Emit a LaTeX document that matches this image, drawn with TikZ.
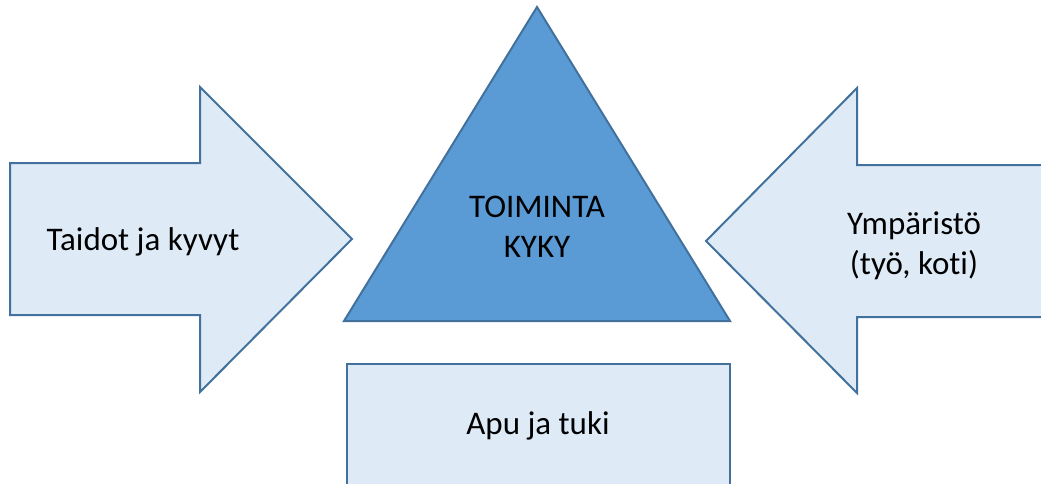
\documentclass[tikz,border=0pt]{standalone}
\usepackage{fontspec}
\setmainfont[RawFeature=-liga]{Carlito}
\definecolor{lightfill}{HTML}{DEEBF7}
\definecolor{edgeblue}{HTML}{41719C}
\definecolor{midblue}{HTML}{5B9BD5}
\begin{document}
\begin{tikzpicture}[x=1pt,y=-1pt,
  shapeline/.style={draw=edgeblue,line width=2pt,line join=miter},
  lbl/.style={font=\fontsize{33}{40}\selectfont,text=black,align=center,inner sep=0pt}]
\useasboundingbox (0,0) rectangle (1041,483);
\clip (0,0) rectangle (1041,483);
% left arrow
\draw[shapeline,fill=lightfill] (10,163) -- (200,163) -- (200,87) -- (352,239) -- (200,392) -- (200,315) -- (10,315) -- cycle;
% right arrow
\draw[shapeline,fill=lightfill] (1045,165) -- (857,165) -- (857,88) -- (706,241) -- (857,393) -- (857,317) -- (1045,317);
\fill[lightfill] (1040,166) rectangle (1045,316);
% triangle
\draw[shapeline,fill=midblue] (537,7) -- (730,321) -- (344,321) -- cycle;
% box
\draw[shapeline,fill=lightfill] (347,364) rectangle (730,490);
% labels
\node[lbl] (skills) at (143,242) {Taidot ja kyvyt};
\node[lbl] (env) at (914,246) {Ympäristö\\(työ, koti)};
\node[lbl] (core) at (537,227) {TOIMINTA\\KYKY};
\node[lbl] (support) at (538,426) {Apu ja tuki};
\end{tikzpicture}
\end{document}
